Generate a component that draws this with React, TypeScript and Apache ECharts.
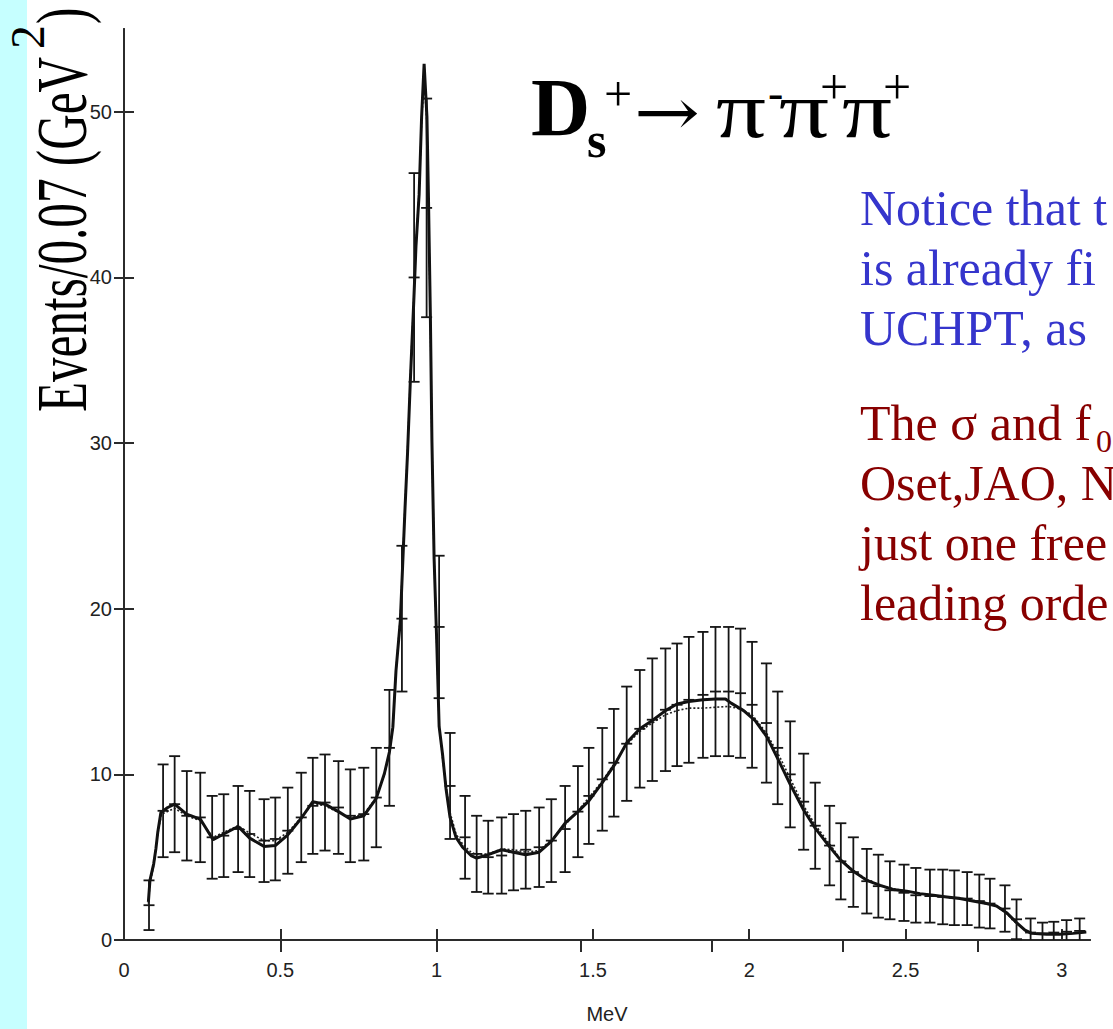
import React, { useEffect, useRef } from "react";
import * as echarts from "echarts";

// Axis ticks
const xTickValues = [0, 0.5, 1, 1.5, 2, 2.5, 3];
const topTickValues = [0.5, 1.0, 1.46, 1.88, 2.3, 2.73];
const yTickValues = [0, 10, 20, 30, 40, 50];

// Measured spectrum: bin centre, events, statistical error
const dataX = [
  0.080, 0.125, 0.162, 0.201, 0.244, 0.282, 0.319, 0.365, 0.402, 0.448,
  0.484, 0.524, 0.567, 0.604, 0.643, 0.686, 0.724, 0.767, 0.807, 0.849,
  0.889, 0.928, 0.968, 1.008, 1.043, 1.091, 1.128, 1.165, 1.208, 1.246,
  1.285, 1.328, 1.367, 1.411, 1.452, 1.487, 1.530, 1.567, 1.608, 1.650,
  1.690, 1.732, 1.769, 1.807, 1.852, 1.892, 1.934, 1.972, 2.009, 2.055,
  2.091, 2.131, 2.174, 2.211, 2.257, 2.293, 2.333, 2.376, 2.413, 2.450,
  2.495, 2.533, 2.578, 2.619, 2.656, 2.697, 2.736, 2.770, 2.818, 2.855,
  2.900, 2.938, 2.974, 3.015, 3.057,
];
const dataY = [
  2.1, 7.8, 8.2, 7.5, 7.4, 6.2, 6.3, 6.7, 6.4, 6.0,
  6.1, 6.6, 7.4, 8.1, 8.3, 8.0, 7.5, 7.6, 8.6, 11.6,
  19.4, 40.0, 44.2, 18.9, 9.3, 6.2, 5.2, 5.0, 5.1, 5.3,
  5.45, 5.6, 6.0, 6.7, 7.75, 8.7, 9.7, 10.7, 11.85, 12.75,
  13.3, 13.9, 14.2, 14.5, 14.8, 15.0, 15.0, 14.9, 14.2, 13.1,
  11.6, 10.0, 8.35, 6.9, 5.7, 4.75, 4.1, 3.55, 3.25, 3.0,
  2.85, 2.7, 2.65, 2.6, 2.55, 2.5, 2.35, 2.2, 1.9, 1.25,
  0.45, 0.4, 0.45, 0.5, 0.55,
];
const dataErr = [
  1.5, 2.8, 2.9, 2.7, 2.7, 2.5, 2.5, 2.6, 2.6, 2.5,
  2.5, 2.6, 2.7, 2.9, 2.9, 2.8, 2.8, 2.8, 3.0, 3.5,
  4.4, 6.3, 6.6, 4.3, 3.2, 2.5, 2.3, 2.2, 2.3, 2.3,
  2.35, 2.4, 2.5, 2.6, 2.75, 2.9, 3.1, 3.25, 3.45, 3.55,
  3.7, 3.7, 3.7, 3.8, 3.8, 3.9, 3.9, 3.9, 3.8, 3.6,
  3.4, 3.2, 2.9, 2.6, 2.4, 2.3, 2.1, 1.95, 1.9, 1.75,
  1.7, 1.65, 1.6, 1.65, 1.65, 1.6, 1.6, 1.5, 1.4, 1.2,
  0.85, 0.65, 0.65, 0.7, 0.75,
];

// Full fit (solid curve)
const fitX = [
  0.078, 0.083, 0.095, 0.102, 0.108, 0.118, 0.140, 0.162, 0.200, 0.244,
  0.285, 0.319, 0.365, 0.402, 0.448, 0.484, 0.524, 0.567, 0.604, 0.643,
  0.686, 0.724, 0.767, 0.807, 0.833, 0.849, 0.860, 0.870, 0.884, 0.899,
  0.907, 0.916, 0.927, 0.934, 0.944, 0.952, 0.960, 0.969, 0.974, 0.980,
  0.985, 0.992, 1.001, 1.008, 1.019, 1.030, 1.043, 1.062, 1.083, 1.110,
  1.128, 1.165, 1.208, 1.246, 1.285, 1.328, 1.367, 1.411, 1.452, 1.487,
  1.530, 1.570, 1.608, 1.650, 1.690, 1.732, 1.769, 1.807, 1.852, 1.892,
  1.924, 1.942, 1.982, 2.019, 2.057, 2.099, 2.131, 2.174, 2.211, 2.254,
  2.291, 2.333, 2.376, 2.419, 2.460, 2.504, 2.546, 2.589, 2.632, 2.674,
  2.715, 2.759, 2.791, 2.823, 2.855, 2.882, 2.903, 2.951, 2.993, 3.036,
  3.078,
];
const fitY = [
  2.3, 3.6, 4.6, 5.5, 6.5, 7.7, 8.0, 8.2, 7.6, 7.3,
  6.05, 6.4, 6.85, 6.15, 5.65, 5.7, 6.35, 7.35, 8.35, 8.2,
  7.75, 7.3, 7.5, 8.55, 10.05, 11.35, 12.85, 16.25, 19.3, 26.1,
  29.4, 33.8, 38.6, 41.9, 45.0, 49.7, 52.9, 49.7, 44.7, 37.7,
  30.1, 23.0, 17.6, 12.9, 11.2, 9.15, 7.4, 6.2, 5.6, 5.1,
  4.95, 5.15, 5.45, 5.3, 5.15, 5.3, 5.95, 7.05, 7.75, 8.4,
  9.5, 10.6, 11.9, 12.75, 13.25, 13.85, 14.25, 14.4, 14.5, 14.55,
  14.55, 14.3, 13.85, 13.25, 12.25, 10.65, 9.4, 7.85, 6.75, 5.7,
  4.85, 4.15, 3.6, 3.3, 3.05, 2.95, 2.8, 2.7, 2.6, 2.5,
  2.35, 2.2, 2.05, 1.65, 1.05, 0.6, 0.4, 0.35, 0.35, 0.4,
  0.48,
];

// Alternative fit (dotted curve)
const altX = [
  0.078, 0.083, 0.095, 0.108, 0.120, 0.162, 0.201, 0.244, 0.285, 0.319,
  0.365, 0.402, 0.448, 0.484, 0.524, 0.567, 0.604, 0.643, 0.686, 0.724,
  0.767, 0.807, 0.833, 0.849, 0.860, 0.870, 0.884, 0.899, 0.907, 0.916,
  0.927, 0.934, 0.944, 0.952, 0.960, 0.969, 0.974, 0.980, 0.985, 0.992,
  1.001, 1.008, 1.019, 1.030, 1.043, 1.062, 1.083, 1.110, 1.128, 1.165,
  1.208, 1.246, 1.285, 1.328, 1.367, 1.411, 1.452, 1.487, 1.530, 1.570,
  1.608, 1.650, 1.690, 1.732, 1.769, 1.807, 1.852, 1.892, 1.934, 1.972,
  2.009, 2.055, 2.099, 2.131, 2.174, 2.211, 2.257, 2.291, 2.333, 2.376,
  2.419, 2.460, 2.504, 2.546, 2.589, 2.632, 2.674, 2.715, 2.759, 2.791,
  2.823, 2.855, 2.882, 2.903, 2.951, 2.993, 3.036, 3.078,
];
const altY = [
  2.2, 3.4, 4.5, 6.4, 7.6, 7.95, 7.5, 7.2, 6.2, 6.5,
  6.9, 6.45, 6.0, 6.0, 6.5, 7.4, 8.25, 8.1, 7.7, 7.4,
  7.6, 8.6, 10.0, 11.3, 12.8, 16.3, 19.5, 26.3, 29.6, 34.0,
  38.8, 42.0, 45.2, 49.5, 52.0, 49.3, 44.5, 37.5, 30.0, 23.0,
  17.5, 13.0, 11.0, 9.3, 7.7, 6.4, 5.8, 5.3, 5.15, 5.2,
  5.5, 5.45, 5.3, 5.4, 6.05, 6.95, 7.8, 8.6, 9.6, 10.7,
  11.8, 12.6, 13.1, 13.6, 13.85, 14.0, 14.0, 14.05, 14.1, 13.95,
  13.6, 12.5, 11.0, 9.75, 8.1, 6.95, 5.8, 4.9, 4.2, 3.65,
  3.3, 3.1, 2.95, 2.8, 2.7, 2.6, 2.5, 2.4, 2.25, 2.05,
  1.6, 1.0, 0.6, 0.4, 0.35, 0.35, 0.4, 0.48,
];

const SERIF = "'Liberation Serif', 'Times New Roman', serif";
const SANS = "'Liberation Sans', Arial, sans-serif";
const ARROW_FONT = "'DejaVu Serif', 'DejaVu Sans', serif";
const AXIS_COLOR = "#2b2b2b";

function textWidth(text: string, font: string): number {
  const ctx = document.createElement("canvas").getContext("2d");
  if (!ctx) return text.length * 20;
  ctx.font = font;
  return ctx.measureText(text).width;
}

// y position for a 'middle'-aligned serif text whose baseline sits at `baseline`
const mid = (baseline: number, size: number) => baseline - 0.34 * size;

function buildGraphics() {
  const els: any[] = [];
  // light cyan strip on the far left
  els.push({
    type: "rect",
    z: -3,
    shape: { x: 0, y: 0, width: 27, height: 1029 },
    style: { fill: "#c6ffff" },
  });

  // rotated y-axis title: Events/0.07 (GeV^2)
  const yMain = "Events/0.07 (GeV";
  const yFont = `72px ${SERIF}`;
  const yScale = 355 / textWidth(yMain, yFont);
  const yStart = 412;
  const yEndMain = yStart - textWidth(yMain, yFont) * yScale;
  const supW = textWidth("2", `48px ${SERIF}`);
  els.push({
    type: "text",
    x: 61,
    y: yStart,
    rotation: Math.PI / 2,
    scaleX: yScale,
    style: { text: yMain, font: yFont, fill: "#000", align: "left", verticalAlign: "middle" },
  });
  els.push({
    type: "text",
    x: 27,
    y: yEndMain - 8,
    rotation: Math.PI / 2,
    style: { text: "2", font: `48px ${SERIF}`, fill: "#000", align: "left", verticalAlign: "middle" },
  });
  els.push({
    type: "text",
    x: 61,
    y: yEndMain - 8 - supW - 1,
    rotation: Math.PI / 2,
    scaleX: yScale,
    style: { text: ")", font: yFont, fill: "#000", align: "left", verticalAlign: "middle" },
  });

  // decay title: D_s^+ -> pi^- pi^+ pi^+
  const t = (text: string, x: number, baseline: number, size: number, bold = false, sx = 1) => ({
    type: "text",
    x,
    y: mid(baseline, size),
    scaleX: sx,
    style: {
      text,
      font: `${bold ? "bold " : ""}${size}px ${SERIF}`,
      fill: "#000",
      align: "left",
      verticalAlign: "middle",
    },
  });
  els.push(t("D", 531, 135, 82, true));
  els.push(t("s", 587, 157, 50, true));
  els.push(t("+", 604, 111, 50));
  const arrowFont = `66px ${ARROW_FONT}`;
  const arrowScale = 66 / textWidth("\u2192", arrowFont);
  els.push({
    type: "text",
    x: 634,
    y: 112,
    scaleX: arrowScale,
    style: { text: "\u2192", font: arrowFont, fill: "#000", align: "left", verticalAlign: "middle" },
  });
  const piScale = 50 / textWidth("\u03c0", `80px ${SERIF}`);
  els.push(t("\u03c0", 716, 137, 80, false, piScale));
  els.push(t("-", 768, 108, 46));
  els.push(t("\u03c0", 779, 137, 80, false, piScale));
  els.push(t("+", 820, 104, 50));
  els.push(t("\u03c0", 842, 137, 80, false, piScale));
  els.push(t("+", 883, 104, 50));

  // explanatory notes beside the plot
  const note = (text: string, x: number, baseline: number, color: string, size = 50) => ({
    type: "text",
    z: -1,
    x,
    y: mid(baseline, size),
    style: { text, font: `${size}px ${SERIF}`, fill: color, align: "left", verticalAlign: "middle" },
  });
  const BLUE = "#3535cc";
  const RED = "#880000";
  els.push(note("Notice that t", 860, 225, BLUE));
  els.push(note("is already fi", 860, 285, BLUE));
  els.push(note("UCHPT, as", 860, 345, BLUE));
  els.push(note("The \u03c3 and f", 860, 440, RED));
  els.push(note("0", 1096, 452, RED, 32));
  els.push(note("Oset,JAO, N", 860, 500, RED));
  els.push(note("just one free", 860, 560, RED));
  els.push(note("leading orde", 860, 620, RED));
  return els;
}

export default function App() {
  const ref = useRef<HTMLDivElement>(null);

  useEffect(() => {
    document.body.style.margin = "0";
    if (!ref.current) return;
    const chart = echarts.init(ref.current, null, { renderer: "svg" });

    const axisLine = { show: true, lineStyle: { color: AXIS_COLOR, width: 2 } };
    const tickStyle = { color: AXIS_COLOR, width: 2 };

    const option: any = {
      animation: false,
      backgroundColor: "#ffffff",
      grid: { left: 124, top: 29, width: 966, height: 915, containLabel: false },
      xAxis: [
        {
          type: "value",
          min: 0,
          max: 3.09,
          position: "bottom",
          axisLine,
          axisTick: { show: true, inside: true, length: 11, lineStyle: tickStyle, customValues: xTickValues },
          axisLabel: {
            margin: 20,
            fontFamily: SANS,
            fontSize: 20,
            color: "#222",
            customValues: xTickValues,
          },
          splitLine: { show: false },
          name: "MeV",
          nameLocation: "middle",
          nameGap: 64,
          nameTextStyle: { fontFamily: SANS, fontSize: 20, color: "#222" },
        },
        {
          type: "value",
          min: 0,
          max: 3.09,
          position: "top",
          axisLine,
          axisTick: { show: true, inside: true, length: 12, lineStyle: tickStyle, customValues: topTickValues },
          axisLabel: { show: false },
          splitLine: { show: false },
        },
      ],
      yAxis: [
        {
          type: "value",
          min: 0,
          max: 55,
          position: "left",
          axisLine,
          axisTick: { show: true, inside: true, length: 10, lineStyle: tickStyle, customValues: yTickValues },
          axisLabel: {
            margin: 12,
            fontFamily: SANS,
            fontSize: 20,
            color: "#222",
            customValues: yTickValues,
          },
          splitLine: { show: false },
        },
        {
          type: "value",
          min: 0,
          max: 55,
          position: "right",
          axisLine,
          axisTick: { show: true, inside: true, length: 10, lineStyle: tickStyle, customValues: yTickValues },
          axisLabel: { show: false },
          splitLine: { show: false },
        },
      ],
      graphic: { elements: buildGraphics() },
      series: [
        {
          name: "alt",
          type: "line",
          xAxisIndex: 0,
          yAxisIndex: 0,
          data: altX.map((x, i) => [x, altY[i]]),
          showSymbol: false,
          symbol: "none",
          lineStyle: { color: "#222", width: 1.6, type: [2, 2] },
          z: 2,
        },
        {
          name: "fit",
          type: "line",
          xAxisIndex: 0,
          yAxisIndex: 0,
          data: fitX.map((x, i) => [x, fitY[i]]),
          showSymbol: false,
          symbol: "none",
          lineStyle: { color: "#111", width: 3 },
          z: 3,
        },
        {
          name: "data",
          type: "custom",
          xAxisIndex: 0,
          yAxisIndex: 0,
          data: dataX.map((x, i) => [x, dataY[i], dataErr[i]]),
          encode: { x: 0, y: 1 },
          z: 4,
          renderItem: (_params: any, api: any) => {
            const x = api.value(0);
            const y = api.value(1);
            const e = api.value(2);
            const lo = Math.max(0, y - e);
            const hi = y + e;
            const pTop = api.coord([x, hi]);
            const pBot = api.coord([x, lo]);
            const pMid = api.coord([x, y]);
            const w = 5.5;
            const style = { stroke: "#151515", lineWidth: 1.8 };
            const children: any[] = [
              { type: "line", shape: { x1: pTop[0], y1: pTop[1], x2: pBot[0], y2: pBot[1] }, style },
              { type: "line", shape: { x1: pTop[0] - w, y1: pTop[1], x2: pTop[0] + w, y2: pTop[1] }, style },
              { type: "line", shape: { x1: pMid[0] - w, y1: pMid[1], x2: pMid[0] + w, y2: pMid[1] }, style },
            ];
            if (y - e > 0) {
              children.push({
                type: "line",
                shape: { x1: pBot[0] - w, y1: pBot[1], x2: pBot[0] + w, y2: pBot[1] },
                style,
              });
            }
            return { type: "group", children };
          },
        },
      ],
    };

    chart.setOption(option);
    return () => chart.dispose();
  }, []);

  return <div ref={ref} style={{ width: 1113, height: 1029 }} />;
}
